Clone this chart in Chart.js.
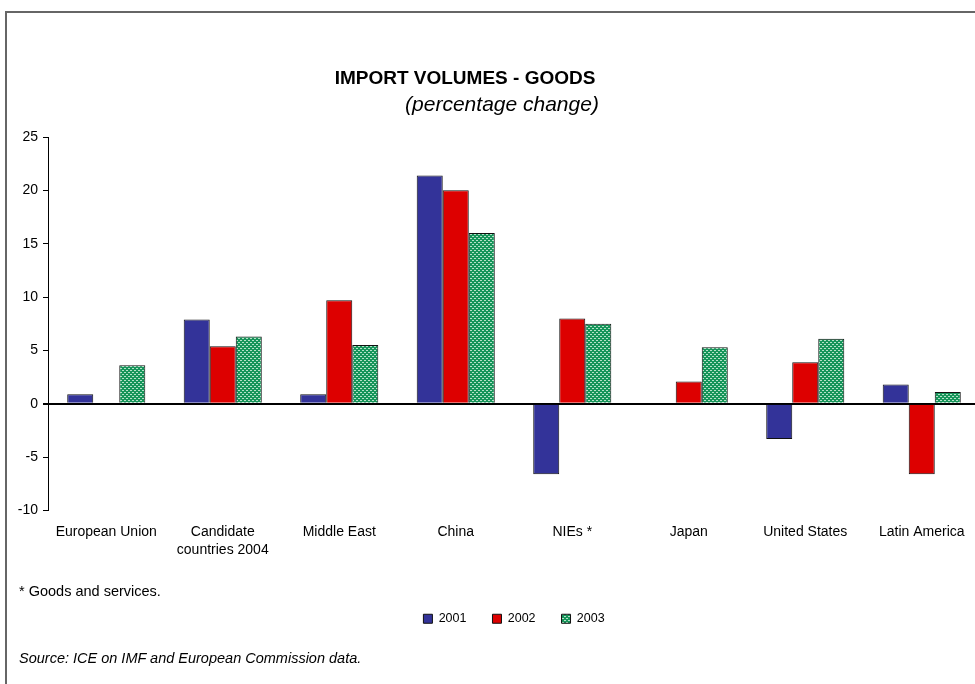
<!DOCTYPE html>
<html>
<head>
<meta charset="utf-8">
<script src="https://cdn.jsdelivr.net/npm/chart.js@4/dist/chart.umd.min.js"></script>
<style>
  html, body { margin: 0; padding: 0; overflow: hidden; background: #fff; }
  body { width: 975px; height: 684px; position: relative; font-family: "Liberation Sans", Arial, sans-serif; }
  #frame { position: absolute; left: 5px; top: 11px; width: 1100px; height: 800px;
           border-left: 2px solid #666; border-top: 2px solid #666; }
  #wrap { position: absolute; left: 0; top: 0; width: 990px; height: 684px; }
  .txt { position: absolute; color: #000; white-space: nowrap; }
  #title { left: 0; width: 930px; top: 67px; text-align: center; font-weight: bold; font-size: 19px; }
  #subtitle { left: 0; width: 1004px; top: 92px; text-align: center; font-style: italic; font-size: 21px; }
  #note { left: 19px; top: 583px; font-size: 14.5px; }
  #source { left: 19px; top: 650px; font-size: 14.5px; font-style: italic; }
</style>
</head>
<body>
<div id="frame"></div>
<div id="wrap"><canvas id="chart" width="990" height="684"></canvas></div>
<div class="txt" id="title">IMPORT VOLUMES - GOODS</div>
<div class="txt" id="subtitle">(percentage change)</div>
<div class="txt" id="note">* Goods and services.</div>
<div class="txt" id="source">Source: ICE on IMF and European Commission data.</div>
<script>
var categories = ["European Union", ["Candidate", "countries 2004"], "Middle East", "China",
                  "NIEs *", "Japan", "United States", "Latin America"];
var years = ["2001", "2002", "2003"];
var values2001 = [0.9, 7.9, 0.9, 21.4, -6.6, 0.1, -3.3, 1.8];
var values2002 = [-0.1, 5.4, 9.7, 20.0, 8.0, 2.1, 3.9, -6.6];
var values2003 = [3.6, 6.3, 5.5, 16.0, 7.5, 5.3, 6.1, 1.1];
var yTicks = [-10, -5, 0, 5, 10, 15, 20, 25];

// green fill with little light dashes for 2003
function makePattern() {
  var c = document.createElement('canvas');
  c.width = 4; c.height = 4;
  var g = c.getContext('2d');
  g.fillStyle = '#16955a';
  g.fillRect(0, 0, 4, 4);
  g.fillStyle = '#b4e2c8';
  g.fillRect(0, 0, 2, 1);
  g.fillRect(2, 2, 2, 1);
  return g.createPattern(c, 'repeat');
}
var greenFill = makePattern();

var ctx = document.getElementById("chart");
var myChart = new Chart(ctx, {
  type: 'bar',
  data: {
    labels: categories,
    datasets: [
      { label: years[0], data: values2001, backgroundColor: '#333399', borderColor: '#111', borderWidth: 1 },
      { label: years[1], data: values2002, backgroundColor: '#dd0000', borderColor: '#111', borderWidth: 1 },
      { label: years[2], data: values2003, backgroundColor: greenFill, borderColor: '#111', borderWidth: 1 }
    ]
  },
  options: {
    responsive: false,
    animation: false,
    layout: { padding: { left: 0, right: 10, top: 137, bottom: 49 } },
    datasets: { bar: { categoryPercentage: 0.67, barPercentage: 1.0 } },
    plugins: {
      title: { display: false },
      tooltip: { enabled: false },
      legend: {
        position: 'bottom',
        fullSize: false,
        labels: {
          boxWidth: 9, boxHeight: 9, padding: 26, color: '#000',
          font: { family: 'Liberation Sans', size: 12.5 }
        }
      }
    },
    scales: {
      x: {
        grid: { display: false, drawTicks: false },
        border: { display: false },
        ticks: {
          autoSkip: false, maxRotation: 0, padding: 13, color: '#000',
          font: { family: 'Liberation Sans', size: 14, lineHeight: 1.25 }
        },
        afterFit: function (scale) { scale.height = 76; }
      },
      y: {
        min: -10, max: 25,
        z: 1,
        afterBuildTicks: function (scale) {
          scale.ticks = yTicks.map(function (v) { return { value: v }; });
        },
        afterFit: function (scale) { scale.width = 48; },
        border: { display: true, color: '#000', width: 1 },
        grid: {
          drawOnChartArea: true,
          tickLength: 5,
          tickColor: '#000',
          color: function (c) { return c.tick && c.tick.value === 0 ? '#000' : 'rgba(0,0,0,0)'; },
          lineWidth: function (c) { return c.tick && c.tick.value === 0 ? 2 : 1; }
        },
        ticks: {
          padding: 5, color: '#000',
          font: { family: 'Liberation Sans', size: 14 }
        }
      }
    }
  }
});
</script>
</body>
</html>
